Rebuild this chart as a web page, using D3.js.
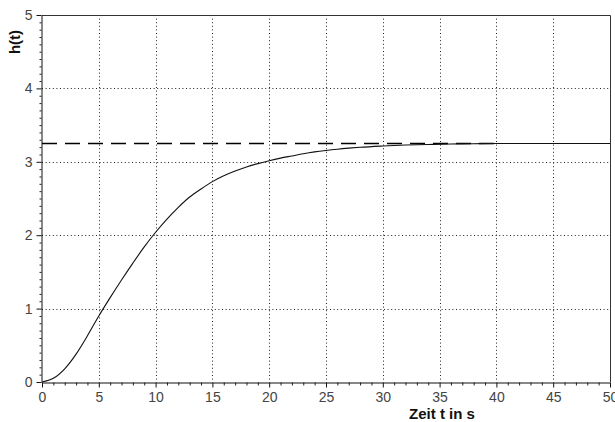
<!DOCTYPE html>
<html>
<head>
<meta charset="utf-8">
<script src="https://cdn.jsdelivr.net/npm/d3@7"></script>
<style>
  html, body { margin: 0; padding: 0; background: #fff; }
  svg { display: block; }
  .tick text { font-family: "Liberation Sans", Arial, sans-serif; font-size: 14px; fill: #444; }
</style>
</head>
<body>
<svg id="chart" width="615" height="422"></svg>
<script>
// Step response h(t) of the closed loop (sampled points)
const timeS = [0, 1, 2, 3, 4, 5, 6, 7, 8, 9, 10, 11, 12, 13, 14, 15, 16, 17, 18, 19, 20,
               21, 22, 23, 24, 25, 26, 27, 28, 30, 32, 34, 36, 38, 40, 45, 50];
const response = [0, 0.05, 0.18, 0.38, 0.63, 0.90, 1.15, 1.39, 1.62, 1.84, 2.04,
                  2.22, 2.38, 2.52, 2.63, 2.73, 2.81, 2.875, 2.93, 2.975, 3.015,
                  3.05, 3.08, 3.11, 3.135, 3.155, 3.172, 3.186, 3.198, 3.215, 3.228,
                  3.236, 3.242, 3.246, 3.25, 3.25, 3.25];
// Final value (steady state), drawn as a dashed reference line
const finalValue = 3.25;
const finalSpan = [0, 40];

const xTicks = [0, 5, 10, 15, 20, 25, 30, 35, 40, 45, 50];
const yTicks = [0, 1, 2, 3, 4, 5];
const xLabel = "Zeit t in s";
const yLabel = "h(t)";

const svg = d3.select("#chart");
const plotLeft = 42, plotRight = 610, plotTop = 15, plotBottom = 382;

const x = d3.scaleLinear().domain([0, 50]).range([plotLeft, plotRight]);
const y = d3.scaleLinear().domain([0, 5]).range([plotBottom, plotTop]);

// dotted grid
const grid = svg.append("g").attr("stroke", "#222").attr("stroke-width", 1)
  .attr("stroke-dasharray", "1,2.6");
grid.selectAll(".gx").data(xTicks.slice(1, -1)).join("line")
  .attr("x1", d => Math.round(x(d)) + 0.5).attr("x2", d => Math.round(x(d)) + 0.5)
  .attr("y1", plotTop).attr("y2", plotBottom);
grid.selectAll(".gy").data(yTicks.slice(1, -1)).join("line")
  .attr("x1", plotLeft).attr("x2", plotRight)
  .attr("y1", d => Math.round(y(d)) + 0.5).attr("y2", d => Math.round(y(d)) + 0.5);

// frame (top and right)
svg.append("path")
  .attr("d", `M${plotLeft},${plotTop + 0.5}H${plotRight + 0.5}V${plotBottom}`)
  .attr("fill", "none").attr("stroke", "#333").attr("stroke-width", 1);

// minor ticks
const xMinor = d3.range(0, 51, 1).filter(v => v % 5 !== 0);
const yMinor = d3.range(0, 50, 1).map(v => v / 10).filter((v, i) => i % 10 !== 0);

svg.append("g").attr("transform", `translate(0,${plotBottom + 0.5})`)
  .call(d3.axisBottom(x).tickValues(xMinor).tickSize(3).tickFormat(""))
  .call(g => g.select(".domain").remove())
  .selectAll("line").attr("stroke", "#222");

svg.append("g").attr("transform", `translate(${plotLeft - 0.5},0)`)
  .call(d3.axisLeft(y).tickValues(yMinor).tickSize(2).tickFormat(""))
  .call(g => g.select(".domain").remove())
  .selectAll("line").attr("stroke", "#222");

// major axes
const xAxis = svg.append("g").attr("transform", `translate(0,${plotBottom + 0.5})`)
  .call(d3.axisBottom(x).tickValues(xTicks).tickSize(5).tickSizeOuter(0).tickPadding(5).tickFormat(d3.format("d")));
xAxis.select(".domain").attr("stroke", "#111");
xAxis.selectAll("line").attr("stroke", "#111");

const yAxis = svg.append("g").attr("transform", `translate(${plotLeft - 0.5},0)`)
  .call(d3.axisLeft(y).tickValues(yTicks).tickSize(5).tickSizeOuter(0).tickPadding(4).tickFormat(d3.format("d")));
yAxis.select(".domain").attr("stroke", "#111");
yAxis.selectAll("line").attr("stroke", "#111");

// dashed final value line
svg.append("line")
  .attr("x1", x(finalSpan[0])).attr("x2", x(finalSpan[1]))
  .attr("y1", y(finalValue)).attr("y2", y(finalValue))
  .attr("stroke", "#000").attr("stroke-width", 1.5)
  .attr("stroke-dasharray", "15,8");

// step response curve
const line = d3.line()
  .x((d, i) => x(timeS[i]))
  .y(d => y(d))
  .curve(d3.curveMonotoneX);
svg.append("path")
  .datum(response)
  .attr("d", line)
  .attr("fill", "none")
  .attr("stroke", "#111")
  .attr("stroke-width", 1.1);

// axis titles
svg.append("text")
  .attr("x", 442).attr("y", 419)
  .attr("text-anchor", "middle")
  .attr("font-family", "Liberation Sans, Arial, sans-serif")
  .attr("font-size", 15).attr("font-weight", "bold")
  .attr("fill", "#111")
  .text(xLabel);

svg.append("text")
  .attr("transform", "translate(20,42) rotate(-90)")
  .attr("text-anchor", "middle")
  .attr("font-family", "Liberation Sans, Arial, sans-serif")
  .attr("font-size", 15).attr("font-weight", "bold")
  .attr("fill", "#111")
  .text(yLabel);
</script>
</body>
</html>
